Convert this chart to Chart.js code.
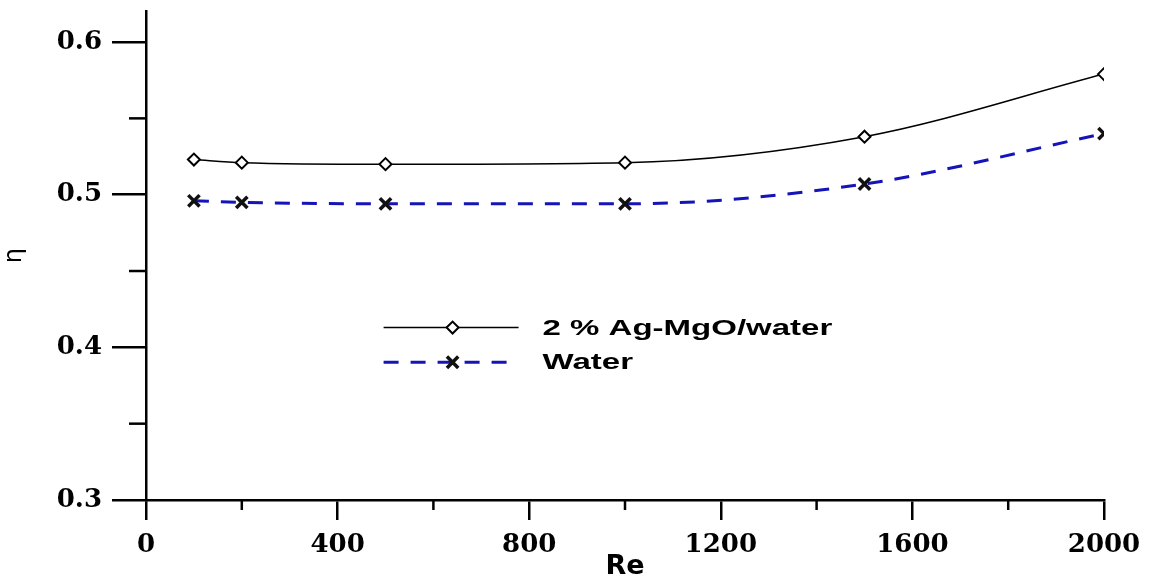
<!DOCTYPE html>
<html>
<head>
<meta charset="utf-8">
<script src="https://cdn.jsdelivr.net/npm/chart.js@4.4.1/dist/chart.umd.min.js"></script>
<style>
    html, body { margin: 0; padding: 0; background: #ffffff; }
    #wrap { width: 1150px; height: 583px; }
</style>
</head>
<body>
<div id="wrap"><canvas id="eff-chart"></canvas></div>
<script>
// Reynolds numbers and efficiency values
const RE_VALUES = [100, 200, 500, 1000, 1500, 2000];
const ETA_NANOFLUID = [0.523, 0.521, 0.520, 0.521, 0.538, 0.579];
const ETA_WATER = [0.496, 0.495, 0.494, 0.494, 0.507, 0.540];

const SERIES_LABELS = ['2 % Ag-MgO/water', 'Water'];

const X_MAJOR_TICKS = [0, 400, 800, 1200, 1600, 2000];
const X_MINOR_TICKS = [200, 600, 1000, 1400, 1800];
const Y_MAJOR_TICKS = [0.3, 0.4, 0.5, 0.6];
const Y_MINOR_TICKS = [0.35, 0.45, 0.55];

const TICK_FONT = { family: "'DejaVu Serif', serif", size: 26, weight: 'bold' };

/**
 * Short ticks between the labelled ones
 */
const minorTicksPlugin = {
    id: 'minorTicks',
    afterDraw(chart) {
        const ctx = chart.ctx;
        const x = chart.scales.x;
        const y = chart.scales.y;
        ctx.save();
        ctx.strokeStyle = '#000';
        ctx.lineWidth = 2.5;
        X_MINOR_TICKS.forEach(v => {
            const px = x.getPixelForValue(v);
            ctx.beginPath();
            ctx.moveTo(px, x.top);
            ctx.lineTo(px, x.top + 10);
            ctx.stroke();
        });
        Y_MINOR_TICKS.forEach(v => {
            const py = y.getPixelForValue(v);
            ctx.beginPath();
            ctx.moveTo(y.right, py);
            ctx.lineTo(y.right - 17, py);
            ctx.stroke();
        });
        ctx.restore();
    }
};

/**
 * Legend drawn inside the plot area, like the original figure
 */
const innerLegendPlugin = {
    id: 'innerLegend',
    afterDraw(chart) {
        const ctx = chart.ctx;
        const area = chart.chartArea;
        const x0 = area.left + (area.right - area.left) * 0.248;
        const lineLen = 135;
        const rows = [area.top + (area.bottom - area.top) * 0.647, area.top + (area.bottom - area.top) * 0.718];

        chart.data.datasets.forEach((ds, i) => {
            const yy = rows[i];
            ctx.save();
            ctx.strokeStyle = ds.borderColor;
            ctx.lineWidth = ds.borderWidth;
            ctx.setLineDash(ds.borderDash || []);
            ctx.beginPath();
            ctx.moveTo(x0, yy);
            ctx.lineTo(x0 + lineLen, yy);
            ctx.stroke();
            ctx.setLineDash([]);
            ctx.strokeStyle = ds.pointBorderColor;
            ctx.fillStyle = ds.pointBackgroundColor;
            ctx.lineWidth = ds.pointBorderWidth;
            Chart.helpers.drawPoint(ctx, {
                pointStyle: ds.pointStyle,
                radius: ds.pointRadius,
                borderWidth: ds.pointBorderWidth,
                rotation: 0
            }, x0 + 69, yy);

            ctx.fillStyle = '#000';
            ctx.font = "bold 22px 'Liberation Sans', Arial, sans-serif";
            ctx.textBaseline = 'middle';
            ctx.translate(x0 + lineLen + 24, yy + 1);
            ctx.scale(1.5, 1);
            ctx.fillText(ds.label, 0, 0);
            ctx.restore();
        });
    }
};

const ctx = document.getElementById('eff-chart').getContext('2d');

new Chart(ctx, {
    type: 'line',
    data: {
        datasets: [
            {
                label: SERIES_LABELS[0],
                data: RE_VALUES.map((re, i) => ({ x: re, y: ETA_NANOFLUID[i] })),
                borderColor: '#000000',
                borderWidth: 1.5,
                pointStyle: 'rectRot',
                pointRadius: 6,
                pointBorderWidth: 2,
                pointBorderColor: '#000000',
                pointBackgroundColor: '#ffffff',
                cubicInterpolationMode: 'monotone',
                fill: false
            },
            {
                label: SERIES_LABELS[1],
                data: RE_VALUES.map((re, i) => ({ x: re, y: ETA_WATER[i] })),
                borderColor: '#1414b8',
                borderWidth: 3,
                borderDash: [15, 12],
                pointStyle: 'crossRot',
                pointRadius: 8,
                pointBorderWidth: 3.5,
                pointBorderColor: '#111111',
                pointBackgroundColor: '#111111',
                cubicInterpolationMode: 'monotone',
                fill: false
            }
        ]
    },
    options: {
        responsive: true,
        maintainAspectRatio: false,
        animation: false,
        layout: {
            padding: { top: 10, right: 46, bottom: 0, left: 0 }
        },
        plugins: {
            legend: { display: false },
            tooltip: { enabled: false }
        },
        scales: {
            x: {
                type: 'linear',
                min: 0,
                max: 2000,
                afterBuildTicks: scale => {
                    scale.ticks = X_MAJOR_TICKS.map(v => ({ value: v }));
                },
                afterFit: scale => {
                    scale.height = 83;
                    scale.paddingLeft = 0;
                    scale.paddingRight = 0;
                },
                border: { color: '#000', width: 2.5 },
                grid: {
                    drawOnChartArea: false,
                    drawTicks: true,
                    tickLength: 20,
                    color: '#000',
                    lineWidth: 2.5
                },
                ticks: {
                    color: '#000',
                    padding: 10,
                    maxRotation: 0,
                    font: TICK_FONT,
                    callback: value => String(value)
                },
                title: {
                    display: true,
                    text: 'Re',
                    color: '#000',
                    padding: { top: 0, bottom: 0 },
                    font: { family: "'DejaVu Sans', sans-serif", size: 27, weight: 'bold' }
                }
            },
            y: {
                type: 'linear',
                min: 0.3,
                max: 0.62,
                afterBuildTicks: scale => {
                    scale.ticks = Y_MAJOR_TICKS.map(v => ({ value: v }));
                },
                afterFit: scale => {
                    scale.width = 146;
                    scale.paddingTop = 0;
                    scale.paddingBottom = 0;
                },
                border: { color: '#000', width: 2.5 },
                grid: {
                    drawOnChartArea: false,
                    drawTicks: true,
                    tickLength: 34,
                    color: '#000',
                    lineWidth: 2.5
                },
                ticks: {
                    color: '#000',
                    padding: 10,
                    font: TICK_FONT,
                    callback: value => value.toFixed(1)
                },
                title: {
                    display: true,
                    text: 'η',
                    color: '#000',
                    padding: { top: 0, bottom: 0 },
                    font: { family: "'DejaVu Sans', sans-serif", size: 24 }
                }
            }
        }
    },
    plugins: [minorTicksPlugin, innerLegendPlugin]
});
</script>
</body>
</html>
